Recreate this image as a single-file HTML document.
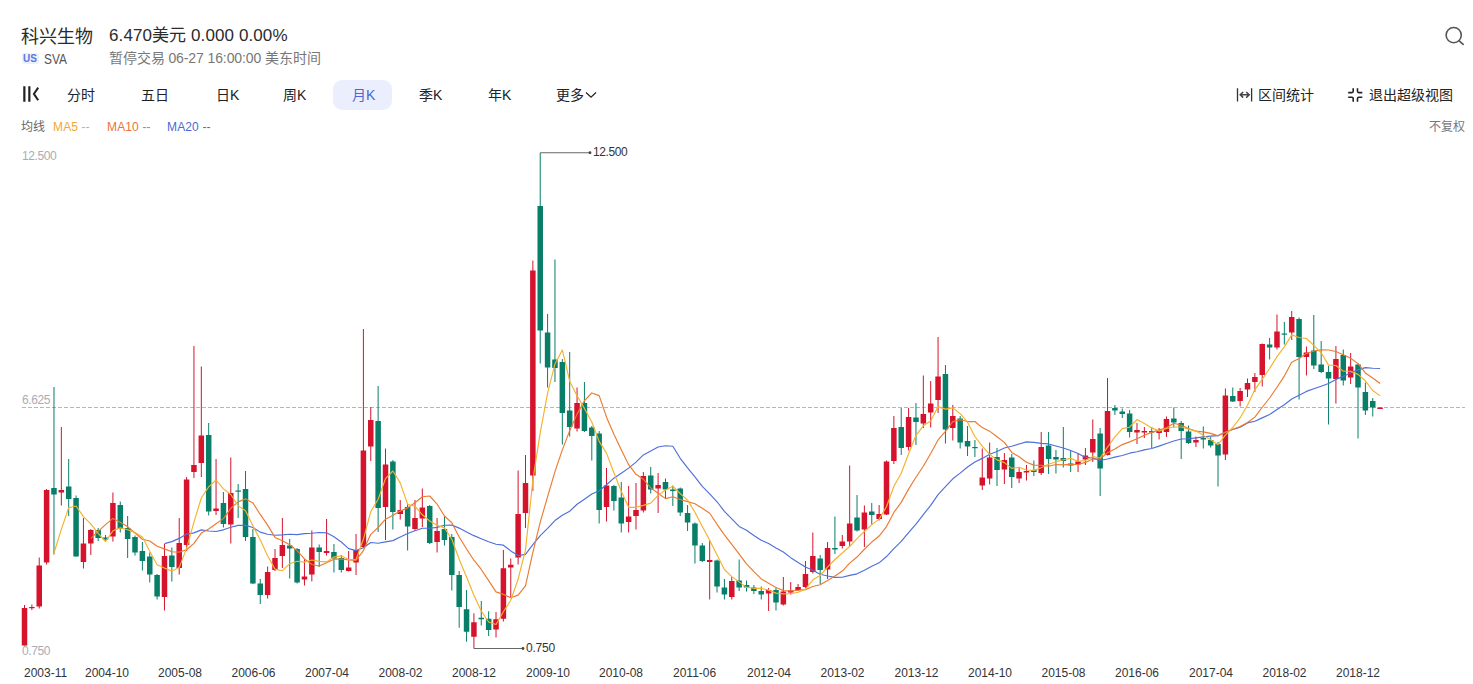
<!DOCTYPE html>
<html lang="zh-CN">
<head>
<meta charset="utf-8">
<title>科兴生物 SVA</title>
<style>
html,body{margin:0;padding:0;background:#fff;}
body{width:1473px;height:684px;position:relative;overflow:hidden;font-family:"Liberation Sans",sans-serif;color:#333;}
.t{position:absolute;white-space:nowrap;line-height:1;}
.name{left:21px;top:27.5px;font-size:18px;color:#2b2b2b;}
.price{left:109px;top:26.7px;font-size:17px;color:#2b2b2b;letter-spacing:0.1px;}
.us{left:21.5px;top:52.5px;width:17px;height:11px;background:#eef1fd;border-radius:2.5px;color:#5878e0;font-size:10px;font-weight:bold;text-align:center;line-height:11px;}
.sym{left:43.5px;top:51.5px;font-size:14px;color:#555;transform:scaleX(0.85);transform-origin:0 0;}
.status{left:109px;top:51px;font-size:14px;color:#777;letter-spacing:-0.1px;}
.tab{font-size:14px;color:#222;top:88px;}
.pill{position:absolute;left:333px;top:80px;width:59px;height:30px;border-radius:9px;background:#ebeffd;}
.leg{font-size:12px;top:121px;letter-spacing:0.15px;}
.ax{font-size:12px;color:#333;top:667px;}
.yl{font-size:12px;color:#a9adb3;left:22px;letter-spacing:-0.4px;}
.tool{font-size:14px;color:#222;top:88px;}
svg{position:absolute;left:0;top:0;}
</style>
</head>
<body>
<div class="t name">科兴生物</div>
<div class="t price">6.470美元 0.000 0.00%</div>
<div class="t us">US</div>
<div class="t sym">SVA</div>
<div class="t status">暂停交易 06-27 16:00:00 美东时间</div>

<svg width="1473" height="684" viewBox="0 0 1473 684">
<!-- search icon -->
<circle cx="1453.7" cy="35.1" r="7.6" fill="none" stroke="#555" stroke-width="1.6"/>
<path d="M1459.2 40.8L1463.2 44.3" stroke="#555" stroke-width="1.7" stroke-linecap="round" fill="none"/>
<!-- collapse icon -->
<path d="M24.35 86.2V101.7M29.35 86.2V101.7" stroke="#222" stroke-width="2.2" fill="none"/>
<path d="M38.2 87.6L33.9 93.9L38.2 100.2" stroke="#222" stroke-width="2" fill="none"/>
<!-- chevron -->
<path d="M586 92.5L591 97.2L596 92.5" stroke="#222" stroke-width="1.2" fill="none"/>
<!-- range icon -->
<path d="M1237.5 88.2V101.6M1251.6 88.2V101.6" stroke="#333" stroke-width="1.3" fill="none"/>
<path d="M1240.2 94.8H1249.2M1243.2 92L1240.2 94.8L1243.2 97.6M1246.2 92L1249.2 94.8L1246.2 97.6" stroke="#444" stroke-width="1.5" fill="none"/>
<!-- exit fullscreen icon -->
<path d="M1348.2 92.6H1351.9Q1353.2 92.6 1353.2 91.3V88.2M1362.3 92.6H1358.8Q1357.5 92.6 1357.5 91.3V88.2M1348.2 97.3H1351.9Q1353.2 97.3 1353.2 98.6V101.7M1362.3 97.3H1358.8Q1357.5 97.3 1357.5 98.6V101.7" stroke="#222" stroke-width="1.6" fill="none"/>
</svg>

<div class="pill"></div>
<div class="t tab" style="left:67px">分时</div>
<div class="t tab" style="left:141px">五日</div>
<div class="t tab" style="left:216px">日K</div>
<div class="t tab" style="left:283px">周K</div>
<div class="t tab" style="left:352px;color:#4a66d8">月K</div>
<div class="t tab" style="left:419px">季K</div>
<div class="t tab" style="left:488px">年K</div>
<div class="t tab" style="left:556px">更多</div>
<div class="t tool" style="left:1258.2px">区间统计</div>
<div class="t tool" style="left:1369px">退出超级视图</div>

<div class="t leg" style="left:21px;color:#666">均线</div>
<div class="t leg" style="left:53px;color:#f0a832">MA5 --</div>
<div class="t leg" style="left:107px;color:#e8743b">MA10 --</div>
<div class="t leg" style="left:167px;color:#4a6ad8">MA20 --</div>
<div class="t leg" style="left:1429px;color:#777">不复权</div>

<div class="t yl" style="top:149.6px">12.500</div>
<div class="t yl" style="top:394px">6.625</div>
<div class="t yl" style="top:645px">0.750</div>

<svg width="1473" height="684" viewBox="0 0 1473 684">
<line x1="22" y1="407.5" x2="1465" y2="407.5" stroke="#e3a3ab" stroke-width="1" stroke-dasharray="4 2"/>
<path d="M24.5 605V645.5M31.87 604.5V610M39.23 557.5V608.5M46.6 489V564.5M61.34 427V505.5M83.44 518V568.5M90.81 529V555M112.91 492.5V541.5M164.48 544V610.5M179.22 518V574.5M186.58 477V551M193.95 346V478M201.32 366.5V477M216.06 459V515M230.79 457.5V543.5M267.63 566.5V598.5M275 549V571M282.36 518V568M304.46 559V585.5M311.83 530.5V581.5M326.57 519V555.5M348.67 551V571.5M356.04 534V575M363.4 329V548M370.77 407V461M385.51 448.5V540M400.24 500V519.5M414.98 500V530.5M422.34 488.5V527M437.08 518V552.5M473.92 613.25V648.5M496.02 612V637.5M503.39 550V621.5M510.75 558.5V597.5M518.12 470.5V564.5M525.49 455V528M532.86 260.5V491M577.06 387.5V431.5M606.53 468V521.5M628.63 486V532.5M636 483V529.5M643.37 472V512.5M658.11 473V513M709.68 540.5V599.5M731.78 577V599.5M768.62 588V611M783.35 577V605.5M790.72 582V594.5M798.09 584V591M805.45 561V588M812.82 532.5V573.5M827.56 542V579M842.29 535V548.5M849.66 465.5V546M864.39 505.5V547M879.13 505V520.5M886.5 460.5V515M893.87 416V464M908.6 408V450.5M923.33 375.5V428M930.7 381V427.5M938.07 337V413M952.8 405V440.5M982.27 448.5V490M989.64 442.5V484.5M1004.38 453V484M1019.11 467.5V483M1026.48 465V480.5M1041.21 432V475M1078.05 453V472M1085.42 448V465M1092.79 419.5V462M1107.52 378V455.5M1136.99 423V444M1144.36 427V438M1159.1 428V439.5M1166.46 416.5V437M1195.93 436.5V447M1225.4 388.5V460M1240.14 388V406.5M1247.5 378.5V397M1254.87 373V392M1262.24 343.5V386.5M1276.97 314.5V349.5M1291.71 311V340M1306.44 346.5V375.5M1335.91 346V403.5M1350.65 353V384M1380.12 407.5V409" stroke="#d6132d" stroke-width="1" fill="none"/>
<path d="M53.97 387V554.5M68.7 459V516M76.07 495.5V556.5M98.17 528V541M105.54 535V541.5M120.28 501.5V532.5M127.64 516V558M135.01 535.5V555.5M142.38 542V570.5M149.75 552.5V582.5M157.12 574V599.5M171.85 547.5V581.5M208.69 423V515.5M223.42 492V527.5M238.16 484V518M245.52 471V541M252.89 529V584M260.26 579V604M289.73 539V578.5M297.1 548V583.5M319.2 544.5V567M333.94 544V572.5M341.3 555V572.5M378.14 386V532M392.88 460V529.5M407.61 504V550.5M429.71 505V544M444.45 516.5V545.5M451.81 534V590.5M459.18 571V627.75M466.55 590V641.75M481.28 601V625.5M488.65 611.25V636M540.23 152.75V363.5M547.59 314V387.5M554.96 259.5V382M562.33 359V444.5M569.69 352V436.5M584.43 382V432M591.8 426V460.5M599.16 431V523.5M613.9 485V510.5M621.27 482V532.5M650.74 467V493.5M665.47 478.5V498.5M672.84 485.5V506M680.21 487.5V516M687.57 505V531M694.94 522.5V563.5M702.31 543V562M717.04 559.5V592.5M724.41 579V599.5M739.15 559.5V591M746.51 580.5V591.5M753.88 585V594M761.25 586.5V599.5M775.99 588V610.5M820.19 555V584M834.92 516.5V554M857.03 495V531.5M871.76 503V524.5M901.23 408V455M915.97 403V445M945.44 365V443.5M960.17 416V448.5M967.54 426V456M974.91 440V457M997.01 448V486M1011.75 454V488M1033.85 460.5V476M1048.58 432V474M1055.95 450V473.5M1063.32 427V467.5M1070.68 451V472M1100.15 428V496M1114.89 405V415M1122.26 408.5V418M1129.62 410V437.5M1151.73 427V448M1173.83 407.5V427.5M1181.2 421V459M1188.57 425.5V444M1203.3 426.5V448.5M1210.67 437V447.5M1218.03 442V486.5M1232.77 387.5V402M1269.61 338V359.5M1284.34 322V344.5M1299.08 317.5V399.5M1313.81 315V369M1321.18 341V373M1328.55 366V424.5M1343.28 349.5V385.5M1358.02 363.5V438.5M1365.38 382.5V415M1372.75 398V416.5" stroke="#087e68" stroke-width="1" fill="none"/>
<g fill="#d6132d"><rect x="21.75" y="608" width="5.5" height="37.5"/><rect x="29.12" y="607" width="5.5" height="1.2"/><rect x="36.48" y="565.5" width="5.5" height="41"/><rect x="43.85" y="490" width="5.5" height="72.5"/><rect x="58.59" y="490" width="5.5" height="2.5"/><rect x="80.69" y="543.5" width="5.5" height="18.5"/><rect x="88.06" y="530" width="5.5" height="13.5"/><rect x="110.16" y="503" width="5.5" height="33.5"/><rect x="161.73" y="556" width="5.5" height="41"/><rect x="176.47" y="543" width="5.5" height="25"/><rect x="183.83" y="479.5" width="5.5" height="65.5"/><rect x="191.2" y="465" width="5.5" height="7"/><rect x="198.57" y="435.5" width="5.5" height="27.5"/><rect x="213.31" y="508.5" width="5.5" height="2.5"/><rect x="228.04" y="493" width="5.5" height="31.5"/><rect x="264.88" y="572" width="5.5" height="23"/><rect x="272.25" y="558" width="5.5" height="12"/><rect x="279.61" y="545" width="5.5" height="11"/><rect x="301.71" y="576.5" width="5.5" height="3"/><rect x="309.08" y="547.5" width="5.5" height="27"/><rect x="323.82" y="551" width="5.5" height="2"/><rect x="345.92" y="567.5" width="5.5" height="3.5"/><rect x="353.29" y="550" width="5.5" height="12.5"/><rect x="360.65" y="450.5" width="5.5" height="96.5"/><rect x="368.02" y="420" width="5.5" height="26.5"/><rect x="382.76" y="464.5" width="5.5" height="42.5"/><rect x="397.49" y="510" width="5.5" height="4"/><rect x="412.23" y="518" width="5.5" height="11"/><rect x="419.59" y="507.5" width="5.5" height="11"/><rect x="434.33" y="531" width="5.5" height="11"/><rect x="471.17" y="622.25" width="5.5" height="14.5"/><rect x="493.27" y="619.25" width="5.5" height="10.25"/><rect x="500.64" y="568.25" width="5.5" height="50.5"/><rect x="508" y="564.75" width="5.5" height="2.75"/><rect x="515.37" y="514" width="5.5" height="43.5"/><rect x="522.74" y="483" width="5.5" height="30"/><rect x="530.11" y="270.5" width="5.5" height="205"/><rect x="574.31" y="403" width="5.5" height="25.5"/><rect x="603.78" y="485.5" width="5.5" height="21.5"/><rect x="625.88" y="516.5" width="5.5" height="5.5"/><rect x="633.25" y="510" width="5.5" height="6"/><rect x="640.62" y="476" width="5.5" height="34.5"/><rect x="655.36" y="485" width="5.5" height="3.5"/><rect x="706.93" y="560" width="5.5" height="2"/><rect x="729.03" y="581" width="5.5" height="16"/><rect x="765.87" y="590" width="5.5" height="3.5"/><rect x="780.6" y="591.5" width="5.5" height="13"/><rect x="787.97" y="590.5" width="5.5" height="2"/><rect x="795.34" y="587" width="5.5" height="3"/><rect x="802.7" y="574" width="5.5" height="13"/><rect x="810.07" y="556" width="5.5" height="16"/><rect x="824.81" y="548" width="5.5" height="21.5"/><rect x="839.54" y="541.5" width="5.5" height="4.5"/><rect x="846.91" y="523.5" width="5.5" height="18"/><rect x="861.64" y="512.5" width="5.5" height="17"/><rect x="876.38" y="514" width="5.5" height="5"/><rect x="883.75" y="461.5" width="5.5" height="53"/><rect x="891.12" y="428" width="5.5" height="33"/><rect x="905.85" y="417" width="5.5" height="30"/><rect x="920.58" y="414" width="5.5" height="9.5"/><rect x="927.95" y="403.5" width="5.5" height="9"/><rect x="935.32" y="376.5" width="5.5" height="23.5"/><rect x="950.05" y="416" width="5.5" height="12"/><rect x="979.52" y="477.5" width="5.5" height="8"/><rect x="986.89" y="457.5" width="5.5" height="21"/><rect x="1001.63" y="460" width="5.5" height="9.5"/><rect x="1016.36" y="472" width="5.5" height="6.5"/><rect x="1023.73" y="471" width="5.5" height="1.5"/><rect x="1038.46" y="447" width="5.5" height="26"/><rect x="1075.3" y="461.5" width="5.5" height="3"/><rect x="1082.67" y="455.5" width="5.5" height="4"/><rect x="1090.04" y="439" width="5.5" height="13.5"/><rect x="1104.77" y="411" width="5.5" height="44"/><rect x="1134.24" y="430" width="5.5" height="2.5"/><rect x="1141.61" y="431" width="5.5" height="1.5"/><rect x="1156.35" y="430" width="5.5" height="3"/><rect x="1163.71" y="419" width="5.5" height="13"/><rect x="1193.18" y="440" width="5.5" height="2.5"/><rect x="1222.65" y="395.5" width="5.5" height="59"/><rect x="1237.39" y="391" width="5.5" height="10"/><rect x="1244.75" y="383" width="5.5" height="6.5"/><rect x="1252.12" y="377" width="5.5" height="5"/><rect x="1259.49" y="344" width="5.5" height="31"/><rect x="1274.22" y="331.5" width="5.5" height="16"/><rect x="1288.96" y="317" width="5.5" height="15.5"/><rect x="1303.69" y="352.5" width="5.5" height="4.5"/><rect x="1333.16" y="359" width="5.5" height="20"/><rect x="1347.9" y="366.5" width="5.5" height="11"/><rect x="1377.37" y="407.5" width="5.5" height="1.5"/></g>
<g fill="#087e68"><rect x="51.22" y="488" width="5.5" height="6.5"/><rect x="65.95" y="486.5" width="5.5" height="12.5"/><rect x="73.32" y="498" width="5.5" height="58.5"/><rect x="95.42" y="530" width="5.5" height="8"/><rect x="102.79" y="537.5" width="5.5" height="2"/><rect x="117.53" y="505" width="5.5" height="24"/><rect x="124.89" y="528" width="5.5" height="11"/><rect x="132.26" y="537" width="5.5" height="15.5"/><rect x="139.63" y="551" width="5.5" height="10"/><rect x="147" y="556.5" width="5.5" height="18"/><rect x="154.37" y="575" width="5.5" height="21.5"/><rect x="169.1" y="555.5" width="5.5" height="11.5"/><rect x="205.94" y="435" width="5.5" height="76.5"/><rect x="220.67" y="503" width="5.5" height="21"/><rect x="235.41" y="490.5" width="5.5" height="1.2"/><rect x="242.77" y="489" width="5.5" height="48"/><rect x="250.14" y="537" width="5.5" height="46.5"/><rect x="257.51" y="583.5" width="5.5" height="11.5"/><rect x="286.98" y="545.5" width="5.5" height="3"/><rect x="294.35" y="549" width="5.5" height="33.5"/><rect x="316.45" y="547.5" width="5.5" height="4.5"/><rect x="331.19" y="552" width="5.5" height="6.5"/><rect x="338.55" y="558" width="5.5" height="12"/><rect x="375.39" y="421" width="5.5" height="87"/><rect x="390.12" y="461.5" width="5.5" height="50.5"/><rect x="404.86" y="507" width="5.5" height="19.5"/><rect x="426.96" y="506" width="5.5" height="37"/><rect x="441.7" y="529" width="5.5" height="11"/><rect x="449.06" y="537" width="5.5" height="38"/><rect x="456.43" y="575" width="5.5" height="32"/><rect x="463.8" y="609.25" width="5.5" height="22.5"/><rect x="478.53" y="617.75" width="5.5" height="1.5"/><rect x="485.9" y="618.75" width="5.5" height="11.25"/><rect x="537.48" y="206" width="5.5" height="124.5"/><rect x="544.84" y="332.5" width="5.5" height="35"/><rect x="552.21" y="359.5" width="5.5" height="8.5"/><rect x="559.58" y="362" width="5.5" height="51"/><rect x="566.94" y="410.5" width="5.5" height="16.5"/><rect x="581.68" y="403" width="5.5" height="28"/><rect x="589.05" y="427.5" width="5.5" height="8.5"/><rect x="596.41" y="433.5" width="5.5" height="76.5"/><rect x="611.15" y="486" width="5.5" height="15"/><rect x="618.52" y="497.5" width="5.5" height="26"/><rect x="647.99" y="475.5" width="5.5" height="14"/><rect x="662.72" y="482" width="5.5" height="7.5"/><rect x="670.09" y="489.5" width="5.5" height="1.5"/><rect x="677.46" y="488.5" width="5.5" height="24"/><rect x="684.82" y="513" width="5.5" height="9.5"/><rect x="692.19" y="523.5" width="5.5" height="22"/><rect x="699.56" y="545.5" width="5.5" height="15.5"/><rect x="714.29" y="560.5" width="5.5" height="26"/><rect x="721.66" y="587.5" width="5.5" height="7"/><rect x="736.4" y="580.5" width="5.5" height="7"/><rect x="743.76" y="585" width="5.5" height="2.5"/><rect x="751.13" y="587.5" width="5.5" height="3.5"/><rect x="758.5" y="591" width="5.5" height="3.5"/><rect x="773.24" y="590" width="5.5" height="12.5"/><rect x="817.44" y="558.5" width="5.5" height="11.5"/><rect x="832.17" y="548" width="5.5" height="1.5"/><rect x="854.28" y="517.5" width="5.5" height="13"/><rect x="869.01" y="511.5" width="5.5" height="3.5"/><rect x="898.48" y="427" width="5.5" height="21"/><rect x="913.22" y="417.5" width="5.5" height="4.5"/><rect x="942.69" y="374" width="5.5" height="55.5"/><rect x="957.42" y="418.5" width="5.5" height="24"/><rect x="964.79" y="441" width="5.5" height="5.5"/><rect x="972.16" y="447" width="5.5" height="1.2"/><rect x="994.26" y="457" width="5.5" height="13"/><rect x="1009" y="457.5" width="5.5" height="19.5"/><rect x="1031.1" y="470" width="5.5" height="2"/><rect x="1045.83" y="445.5" width="5.5" height="13.5"/><rect x="1053.2" y="457" width="5.5" height="2.5"/><rect x="1060.57" y="458" width="5.5" height="3"/><rect x="1067.93" y="463.5" width="5.5" height="2"/><rect x="1097.4" y="433.5" width="5.5" height="35"/><rect x="1112.14" y="408" width="5.5" height="2.5"/><rect x="1119.51" y="411.5" width="5.5" height="2.5"/><rect x="1126.88" y="413.5" width="5.5" height="18.5"/><rect x="1148.98" y="431" width="5.5" height="1.5"/><rect x="1171.08" y="418.5" width="5.5" height="4"/><rect x="1178.45" y="423" width="5.5" height="8"/><rect x="1185.82" y="431.5" width="5.5" height="11.5"/><rect x="1200.55" y="438" width="5.5" height="1.5"/><rect x="1207.92" y="440" width="5.5" height="5.5"/><rect x="1215.28" y="444" width="5.5" height="11.5"/><rect x="1230.02" y="396" width="5.5" height="5.5"/><rect x="1266.86" y="344.5" width="5.5" height="3"/><rect x="1281.59" y="333.5" width="5.5" height="1.2"/><rect x="1296.33" y="319" width="5.5" height="38"/><rect x="1311.06" y="350.5" width="5.5" height="15"/><rect x="1318.43" y="364.5" width="5.5" height="7.5"/><rect x="1325.8" y="372" width="5.5" height="6.5"/><rect x="1340.53" y="355" width="5.5" height="25.5"/><rect x="1355.27" y="364.5" width="5.5" height="23"/><rect x="1362.63" y="392" width="5.5" height="18.5"/><rect x="1370" y="401" width="5.5" height="6.5"/></g>
<path d="M164.48 543.65 L171.85 541.6 L179.22 538.4 L186.58 534.1 L193.95 532.85 L201.32 529.9 L208.69 530.98 L216.06 531.45 L223.42 529.83 L230.79 527.3 L238.16 525.38 L245.52 525.33 L252.89 527.52 L260.26 532.12 L267.63 534.27 L275 535.23 L282.36 534.85 L289.73 534.23 L297.1 534.62 L304.46 533.62 L311.83 533.2 L319.2 532.45 L326.57 532.85 L333.94 536.8 L341.3 542.05 L348.67 548.65 L356.04 550.58 L363.4 547.67 L370.77 542.48 L378.14 543.23 L385.51 541.88 L392.88 540.62 L400.24 536.95 L407.61 533.52 L414.98 530.83 L422.34 528.3 L429.71 528.2 L437.08 527.33 L444.45 525.2 L451.81 525.12 L459.18 528.1 L466.55 532.09 L473.92 535.65 L481.28 538.69 L488.65 541.69 L496.02 544.27 L503.39 545.19 L510.75 550.9 L518.12 555.6 L525.49 554.35 L532.86 544.65 L540.23 535.58 L547.59 528.45 L554.96 520.52 L562.33 515.27 L569.69 511.25 L577.06 504.25 L584.43 499.25 L591.8 494.05 L599.16 490.8 L606.53 484.73 L613.9 478.19 L621.27 473.25 L628.63 468.11 L636 462.11 L643.37 454.95 L650.74 451.01 L658.11 447.02 L665.47 445.8 L672.84 446.2 L680.21 458.3 L687.57 467.9 L694.94 476.8 L702.31 486.45 L709.68 493.8 L717.04 501.77 L724.41 511.35 L731.78 518.85 L739.15 526.42 L746.51 530.3 L753.88 535.58 L761.25 540.25 L768.62 543.58 L775.99 547.88 L783.35 551.95 L790.72 557.67 L798.09 562.55 L805.45 567 L812.82 570.33 L820.19 574.27 L827.56 576.05 L834.92 577.4 L842.29 577.2 L849.66 575.33 L857.03 573.85 L864.39 570.15 L871.76 566.17 L879.13 562.83 L886.5 556.52 L893.87 548.55 L901.23 541.4 L908.6 532.52 L915.97 524.12 L923.33 514.7 L930.7 505.3 L938.07 494.6 L945.44 486.73 L952.8 478.82 L960.17 473.15 L967.54 466.98 L974.91 461.98 L982.27 458.38 L989.64 454.18 L997.01 451.5 L1004.38 447.98 L1011.75 446.2 L1019.11 444.05 L1026.48 441.9 L1033.85 442.43 L1041.21 443.38 L1048.58 443.93 L1055.95 446.05 L1063.32 448 L1070.68 450.57 L1078.05 453.48 L1085.42 457.43 L1092.79 457.9 L1100.15 460.52 L1107.52 458.95 L1114.89 457.15 L1122.26 455.45 L1129.62 453.18 L1136.99 451.8 L1144.36 449.85 L1151.73 448.48 L1159.1 446.12 L1166.46 443.48 L1173.83 441.05 L1181.2 439 L1188.57 438.8 L1195.93 437.85 L1203.3 436.85 L1210.67 436.07 L1218.03 435.57 L1225.4 432.27 L1232.77 429.57 L1240.14 427.18 L1247.5 422.9 L1254.87 421.2 L1262.24 417.88 L1269.61 414.55 L1276.97 409.52 L1284.34 404.75 L1291.71 399.05 L1299.08 395.27 L1306.44 391.4 L1313.81 388.73 L1321.18 386.2 L1328.55 383.57 L1335.91 379.38 L1343.28 376.4 L1350.65 372.75 L1358.02 369.85 L1365.38 367.6 L1372.75 368.2 L1380.12 368.5" stroke="#4f6fdb" stroke-width="1.15" fill="none" stroke-linejoin="round"/>
<path d="M90.81 538.4 L98.17 531.4 L105.54 524.65 L112.91 518.4 L120.28 522.3 L127.64 526.75 L135.01 533 L142.38 539.2 L149.75 541 L157.12 546.3 L164.48 548.9 L171.85 551.8 L179.22 552.15 L186.58 549.8 L193.95 543.4 L201.32 533.05 L208.69 528.95 L216.06 523.7 L223.42 518.65 L230.79 508.3 L238.16 501.85 L245.52 498.85 L252.89 502.9 L260.26 514.45 L267.63 525.15 L275 537.4 L282.36 540.75 L289.73 544.75 L297.1 550.6 L304.46 558.95 L311.83 564.55 L319.2 566.05 L326.57 562.8 L333.94 559.15 L341.3 558.95 L348.67 559.9 L356.04 560.4 L363.4 550.6 L370.77 534.35 L378.14 527.5 L385.51 519.2 L392.88 515.2 L400.24 511.1 L407.61 507.9 L414.98 502.7 L422.34 496.7 L429.71 496 L437.08 504.05 L444.45 516.05 L451.81 522.75 L459.18 537 L466.55 548.98 L473.92 560.2 L481.28 569.48 L488.65 580.67 L496.02 591.85 L503.39 594.38 L510.75 597.75 L518.12 595.15 L525.49 585.95 L532.86 552.3 L540.23 522.17 L547.59 496.7 L554.96 471.57 L562.33 449.88 L569.69 430.65 L577.06 414.12 L584.43 400.75 L591.8 392.95 L599.16 395.65 L606.53 417.15 L613.9 434.2 L621.27 449.8 L628.63 464.65 L636 474.35 L643.37 479.25 L650.74 487.9 L658.11 493.3 L665.47 498.65 L672.84 496.75 L680.21 499.45 L687.57 501.6 L694.94 503.8 L702.31 508.25 L709.68 513.25 L717.04 524.3 L724.41 534.8 L731.78 544.4 L739.15 554.2 L746.51 563.85 L753.88 571.7 L761.25 578.9 L768.62 583.35 L775.99 587.5 L783.35 590.65 L790.72 591.05 L798.09 590.3 L805.45 589.6 L812.82 586.45 L820.19 584.7 L827.56 580.4 L834.92 575.9 L842.29 571.05 L849.66 563.15 L857.03 557.05 L864.39 549.25 L871.76 542.05 L879.13 536.05 L886.5 526.6 L893.87 512.4 L901.23 502.4 L908.6 489.15 L915.97 477.2 L923.33 466.25 L930.7 453.55 L938.07 439.95 L945.44 431.4 L952.8 421.6 L960.17 419.7 L967.54 421.55 L974.91 421.55 L982.27 427.6 L989.64 431.15 L997.01 436.75 L1004.38 442.4 L1011.75 452.45 L1019.11 456.7 L1026.48 462.2 L1033.85 465.15 L1041.21 465.2 L1048.58 466.3 L1055.95 464.5 L1063.32 464.85 L1070.68 464.4 L1078.05 464.55 L1085.42 462.4 L1092.79 459.1 L1100.15 458.85 L1107.52 452.75 L1114.89 449.1 L1122.26 444.6 L1129.62 441.85 L1136.99 438.75 L1144.36 435.3 L1151.73 432.4 L1159.1 429.85 L1166.46 427.85 L1173.83 423.25 L1181.2 425.25 L1188.57 428.5 L1195.93 431.1 L1203.3 431.85 L1210.67 433.4 L1218.03 435.85 L1225.4 432.15 L1232.77 429.3 L1240.14 426.5 L1247.5 422.55 L1254.87 417.15 L1262.24 407.25 L1269.61 398 L1276.97 387.2 L1284.34 376.1 L1291.71 362.25 L1299.08 358.4 L1306.44 353.5 L1313.81 350.95 L1321.18 349.85 L1328.55 350 L1335.91 351.5 L1343.28 354.8 L1350.65 358.3 L1358.02 363.6 L1365.38 372.95 L1372.75 378 L1380.12 383.5" stroke="#ec7a30" stroke-width="1.15" fill="none" stroke-linejoin="round"/>
<path d="M53.97 553 L61.34 529.4 L68.7 507.8 L76.07 506 L83.44 516.7 L90.81 523.8 L98.17 533.4 L105.54 541.5 L112.91 530.8 L120.28 527.9 L127.64 529.7 L135.01 532.6 L142.38 536.9 L149.75 551.2 L157.12 564.7 L164.48 568.1 L171.85 571 L179.22 567.4 L186.58 548.4 L193.95 522.1 L201.32 498 L208.69 486.9 L216.06 480 L223.42 488.9 L230.79 494.5 L238.16 505.7 L245.52 510.8 L252.89 525.8 L260.26 540 L267.63 555.8 L275 569.1 L282.36 570.7 L289.73 563.7 L297.1 561.2 L304.46 562.1 L311.83 560 L319.2 561.4 L326.57 561.9 L333.94 557.1 L341.3 555.8 L348.67 559.8 L356.04 559.4 L363.4 539.3 L370.77 511.6 L378.14 499.2 L385.51 478.6 L392.88 471 L400.24 482.9 L407.61 504.2 L414.98 506.2 L422.34 514.8 L429.71 521 L437.08 525.2 L444.45 527.9 L451.81 539.3 L459.18 559.2 L466.55 576.95 L473.92 595.2 L481.28 611.05 L488.65 622.05 L496.02 624.5 L503.39 611.8 L510.75 600.3 L518.12 579.25 L525.49 549.85 L532.86 480.1 L540.23 432.55 L547.59 393.1 L554.96 363.9 L562.33 349.9 L569.69 381.2 L577.06 395.7 L584.43 408.4 L591.8 422 L599.16 441.4 L606.53 453.1 L613.9 472.7 L621.27 491.2 L628.63 507.3 L636 507.3 L643.37 505.4 L650.74 503.1 L658.11 495.4 L665.47 490 L672.84 486.2 L680.21 493.5 L687.57 500.1 L694.94 512.2 L702.31 526.5 L709.68 540.3 L717.04 555.1 L724.41 569.5 L731.78 576.6 L739.15 581.9 L746.51 587.4 L753.88 588.3 L761.25 588.3 L768.62 590.1 L775.99 593.1 L783.35 593.9 L790.72 593.8 L798.09 592.3 L805.45 589.1 L812.82 579.8 L820.19 575.5 L827.56 567 L834.92 559.5 L842.29 553 L849.66 546.5 L857.03 538.6 L864.39 531.5 L871.76 524.6 L879.13 519.1 L886.5 506.7 L893.87 486.2 L901.23 473.3 L908.6 453.7 L915.97 435.3 L923.33 425.8 L930.7 420.9 L938.07 406.6 L945.44 409.1 L952.8 407.9 L960.17 413.6 L967.54 422.2 L974.91 436.5 L982.27 446.1 L989.64 454.4 L997.01 459.9 L1004.38 462.6 L1011.75 468.4 L1019.11 467.3 L1026.48 470 L1033.85 470.4 L1041.21 467.8 L1048.58 464.2 L1055.95 461.7 L1063.32 459.7 L1070.68 458.4 L1078.05 461.3 L1085.42 460.6 L1092.79 456.5 L1100.15 458 L1107.52 447.1 L1114.89 436.9 L1122.26 428.6 L1129.62 427.2 L1136.99 419.5 L1144.36 423.5 L1151.73 427.9 L1159.1 431.1 L1166.46 428.5 L1173.83 427 L1181.2 427 L1188.57 429.1 L1195.93 431.1 L1203.3 435.2 L1210.67 439.8 L1218.03 444.7 L1225.4 435.2 L1232.77 427.5 L1240.14 417.8 L1247.5 405.3 L1254.87 389.6 L1262.24 379.3 L1269.61 368.5 L1276.97 356.6 L1284.34 346.9 L1291.71 334.9 L1299.08 337.5 L1306.44 338.5 L1313.81 345.3 L1321.18 352.8 L1328.55 365.1 L1335.91 365.5 L1343.28 371.1 L1350.65 371.3 L1358.02 374.4 L1365.38 380.8 L1372.75 390.5 L1380.12 395.9" stroke="#f3b22e" stroke-width="1.15" fill="none" stroke-linejoin="round"/>
<path d="M540.23 152.75H590" stroke="#666" stroke-width="1" fill="none"/>
<circle cx="590" cy="152.75" r="1.4" fill="#444"/>
<path d="M473.92 648.5H523" stroke="#666" stroke-width="1" fill="none"/>
<circle cx="523" cy="648.5" r="1.4" fill="#444"/>
</svg>

<div class="t" style="left:593px;top:146px;font-size:12px;color:#333;letter-spacing:-0.4px">12.500</div>
<div class="t" style="left:526px;top:642px;font-size:12px;color:#333;letter-spacing:-0.2px">0.750</div>

<div class="t ax" style="left:24px">2003-11</div>
<div class="t ax" style="left:85px">2004-10</div>
<div class="t ax" style="left:158px">2005-08</div>
<div class="t ax" style="left:231.5px">2006-06</div>
<div class="t ax" style="left:305px">2007-04</div>
<div class="t ax" style="left:378.5px">2008-02</div>
<div class="t ax" style="left:452px">2008-12</div>
<div class="t ax" style="left:526px">2009-10</div>
<div class="t ax" style="left:599px">2010-08</div>
<div class="t ax" style="left:673px">2011-06</div>
<div class="t ax" style="left:747px">2012-04</div>
<div class="t ax" style="left:820.5px">2013-02</div>
<div class="t ax" style="left:894.5px">2013-12</div>
<div class="t ax" style="left:968px">2014-10</div>
<div class="t ax" style="left:1041.5px">2015-08</div>
<div class="t ax" style="left:1115px">2016-06</div>
<div class="t ax" style="left:1189px">2017-04</div>
<div class="t ax" style="left:1262.5px">2018-02</div>
<div class="t ax" style="left:1336px">2018-12</div>
</body>
</html>
